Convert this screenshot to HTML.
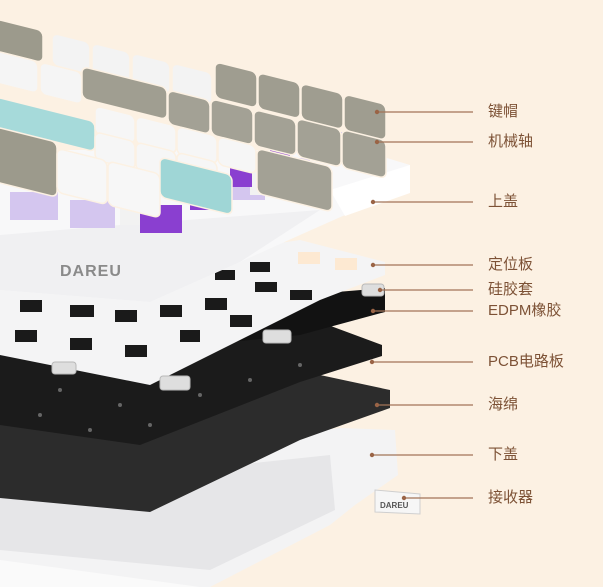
<!DOCTYPE html>
<html><head><meta charset="utf-8"><style>
html,body{margin:0;padding:0;}
body{width:603px;height:587px;overflow:hidden;background:#fcf1e3;position:relative;font-family:"Liberation Sans","Noto Sans CJK SC",sans-serif;}
.l{position:absolute;left:488px;font-size:15px;color:#7d5236;line-height:18px;white-space:nowrap;}
</style></head><body>
<svg width="603" height="587" style="position:absolute;left:0;top:0">
<rect width="603" height="587" fill="#fcf1e3"/>
<!-- bottom case -->
<polygon points="0,465 340,428 395,430 398,475 355,505 330,525 210,587 0,587" fill="#f3f3f4"/>
<polygon points="0,490 330,455 335,510 210,570 0,550" fill="#e6e6e8"/>
<polygon points="0,560 200,587 0,587" fill="#fafafa"/>
<!-- receiver -->
<polygon points="375,490 420,494 420,514 375,512" fill="#f6f6f6" stroke="#cfcfcf" stroke-width="1"/>
<text x="380" y="508" font-size="8" font-weight="bold" fill="#555" font-family="Liberation Sans">DAREU</text>
<!-- sponge -->
<polygon points="0,400 320,375 390,390 390,408 300,440 150,512 0,498" fill="#2c2c2c"/>
<!-- PCB -->
<polygon points="0,345 320,322 382,345 382,356 300,382 140,445 0,425" fill="#1b1b1b"/>
<g fill="#666">
<circle cx="60" cy="390" r="2"/><circle cx="120" cy="405" r="2"/><circle cx="200" cy="395" r="2"/><circle cx="250" cy="380" r="2"/><circle cx="300" cy="365" r="2"/><circle cx="150" cy="425" r="2"/><circle cx="40" cy="415" r="2"/><circle cx="90" cy="430" r="2"/>
</g>
<!-- EDPM -->
<polygon points="240,300 385,288 385,312 300,335 200,345" fill="#121212"/>
<!-- plate -->
<polygon points="0,285 300,240 385,262 385,275 320,300 150,385 0,355" fill="#f4f4f5"/>
<g fill="#1a1a1a">
<rect x="20" y="300" width="22" height="12"/><rect x="70" y="305" width="24" height="12"/><rect x="115" y="310" width="22" height="12"/><rect x="160" y="305" width="22" height="12"/><rect x="205" y="298" width="22" height="12"/>
<rect x="15" y="330" width="22" height="12"/><rect x="70" y="338" width="22" height="12"/><rect x="125" y="345" width="22" height="12"/><rect x="180" y="330" width="20" height="12"/><rect x="230" y="315" width="22" height="12"/>
<rect x="255" y="282" width="22" height="10"/><rect x="290" y="290" width="22" height="10"/><rect x="250" y="262" width="20" height="10"/><rect x="215" y="270" width="20" height="10"/>
</g>
<g fill="#fde9d2"><rect x="298" y="252" width="22" height="12"/><rect x="335" y="258" width="22" height="12"/></g>
<!-- silicone pieces -->
<g fill="#dedede" stroke="#b8b8b8">
<rect x="362" y="284" width="22" height="12" rx="3"/><rect x="263" y="330" width="28" height="13" rx="3"/><rect x="160" y="376" width="30" height="14" rx="3"/><rect x="52" y="362" width="24" height="12" rx="3"/>
</g>
<!-- top case -->
<polygon points="0,150 360,150 410,165 410,192 345,215 300,235 240,262 150,302 0,290" fill="#f8f8f9"/>
<polygon points="0,235 120,225 320,210 240,262 150,302 0,290" fill="#f0f0f2"/>
<polygon points="330,190 410,165 410,193 345,216" fill="#ffffff"/>
<text x="60" y="276" font-size="16" font-weight="bold" fill="#8a8a8a" font-family="Liberation Sans" letter-spacing="1">DAREU</text>
<!-- switches -->
<g fill="#d4c6ef">
<rect x="10" y="192" width="48" height="28"/><rect x="70" y="200" width="45" height="28"/><rect x="230" y="175" width="35" height="25"/><rect x="280" y="158" width="30" height="25"/><rect x="330" y="132" width="42" height="25"/>
</g>
<g fill="#f2f2f2"><rect x="120" y="195" width="25" height="30"/><rect x="250" y="170" width="25" height="25"/></g>
<g fill="#8a3fd0"><rect x="140" y="205" width="42" height="28"/><rect x="190" y="185" width="40" height="25"/><rect x="230" y="165" width="22" height="22"/><rect x="270" y="150" width="20" height="22"/></g>
<!-- keycaps (skewed frame: actual y = y + 0.25x) -->
<g transform="matrix(1,0.25,0,1,0,0)" stroke="#fcf1e3" stroke-width="1.5">
<!-- row A -->
<rect x="-5" y="20" width="48" height="32" rx="6" fill="#9c9a8c"/>
<rect x="52" y="20" width="38" height="32" rx="6" fill="#f3f3f3"/>
<rect x="92" y="20" width="38" height="32" rx="6" fill="#f3f3f3"/>
<rect x="132" y="20" width="38" height="32" rx="6" fill="#f3f3f3"/>
<rect x="172" y="20" width="40" height="32" rx="6" fill="#f3f3f3"/>
<rect x="215" y="8" width="42" height="36" rx="6" fill="#9f9d90"/>
<rect x="258" y="8" width="42" height="36" rx="6" fill="#9f9d90"/>
<rect x="301" y="8" width="42" height="36" rx="6" fill="#9f9d90"/>
<rect x="344" y="8" width="42" height="36" rx="6" fill="#9f9d90"/>
<!-- row B -->
<rect x="-5" y="52" width="43" height="32" rx="6" fill="#f5f5f5"/>
<rect x="40" y="52" width="42" height="32" rx="6" fill="#f5f5f5"/>
<rect x="82" y="46" width="85" height="32" rx="6" fill="#a09e91"/>
<rect x="168" y="48" width="42" height="34" rx="6" fill="#a3a195"/>
<rect x="211" y="46" width="42" height="36" rx="6" fill="#a3a195"/>
<rect x="254" y="46" width="42" height="36" rx="6" fill="#a3a195"/>
<rect x="297" y="44" width="44" height="38" rx="6" fill="#a3a195"/>
<rect x="342" y="44" width="44" height="38" rx="6" fill="#a3a195"/>
<!-- row C -->
<rect x="-5" y="98" width="100" height="30" rx="6" fill="#a6dada"/>
<rect x="95" y="82" width="40" height="28" rx="6" fill="#f6f6f6"/>
<rect x="136" y="82" width="40" height="28" rx="6" fill="#f6f6f6"/>
<rect x="177" y="82" width="40" height="28" rx="6" fill="#f6f6f6"/>
<rect x="218" y="82" width="38" height="28" rx="6" fill="#f6f6f6"/>
<rect x="95" y="108" width="40" height="28" rx="6" fill="#f6f6f6"/>
<rect x="136" y="108" width="40" height="28" rx="6" fill="#f6f6f6"/>
<rect x="177" y="108" width="40" height="14" rx="6" fill="#f6f6f6"/>
<rect x="257" y="84" width="75" height="45" rx="6" fill="#a3a195"/>
<!-- row D -->
<rect x="-5" y="128" width="62" height="55" rx="6" fill="#9c9a8c"/>
<rect x="57" y="134" width="50" height="44" rx="6" fill="#f7f7f7"/>
<rect x="108" y="134" width="52" height="44" rx="6" fill="#f7f7f7"/>
<rect x="160" y="117" width="72" height="40" rx="6" fill="#9fd6d6"/>
</g>
<!-- leader lines -->
<g stroke="#a27457" stroke-width="1.2">
<line x1="377" y1="112" x2="473" y2="112"/><line x1="377" y1="142" x2="473" y2="142"/><line x1="373" y1="202" x2="473" y2="202"/><line x1="373" y1="265" x2="473" y2="265"/><line x1="380" y1="290" x2="473" y2="290"/><line x1="373" y1="311" x2="473" y2="311"/><line x1="372" y1="362" x2="473" y2="362"/><line x1="377" y1="405" x2="473" y2="405"/><line x1="372" y1="455" x2="473" y2="455"/><line x1="404" y1="498" x2="473" y2="498"/>
</g>
<g fill="#9a6446">
<circle cx="377" cy="112" r="2.2"/><circle cx="377" cy="142" r="2.2"/><circle cx="373" cy="202" r="2.2"/><circle cx="373" cy="265" r="2.2"/><circle cx="380" cy="290" r="2.2"/><circle cx="373" cy="311" r="2.2"/><circle cx="372" cy="362" r="2.2"/><circle cx="377" cy="405" r="2.2"/><circle cx="372" cy="455" r="2.2"/><circle cx="404" cy="498" r="2.2"/>
</g>
</svg>
<div class="l" style="top:103px">键帽</div>
<div class="l" style="top:133px">机械轴</div>
<div class="l" style="top:193px">上盖</div>
<div class="l" style="top:256px">定位板</div>
<div class="l" style="top:281px">硅胶套</div>
<div class="l" style="top:302px">EDPM橡胶</div>
<div class="l" style="top:353px">PCB电路板</div>
<div class="l" style="top:396px">海绵</div>
<div class="l" style="top:446px">下盖</div>
<div class="l" style="top:489px">接收器</div>
</body></html>
